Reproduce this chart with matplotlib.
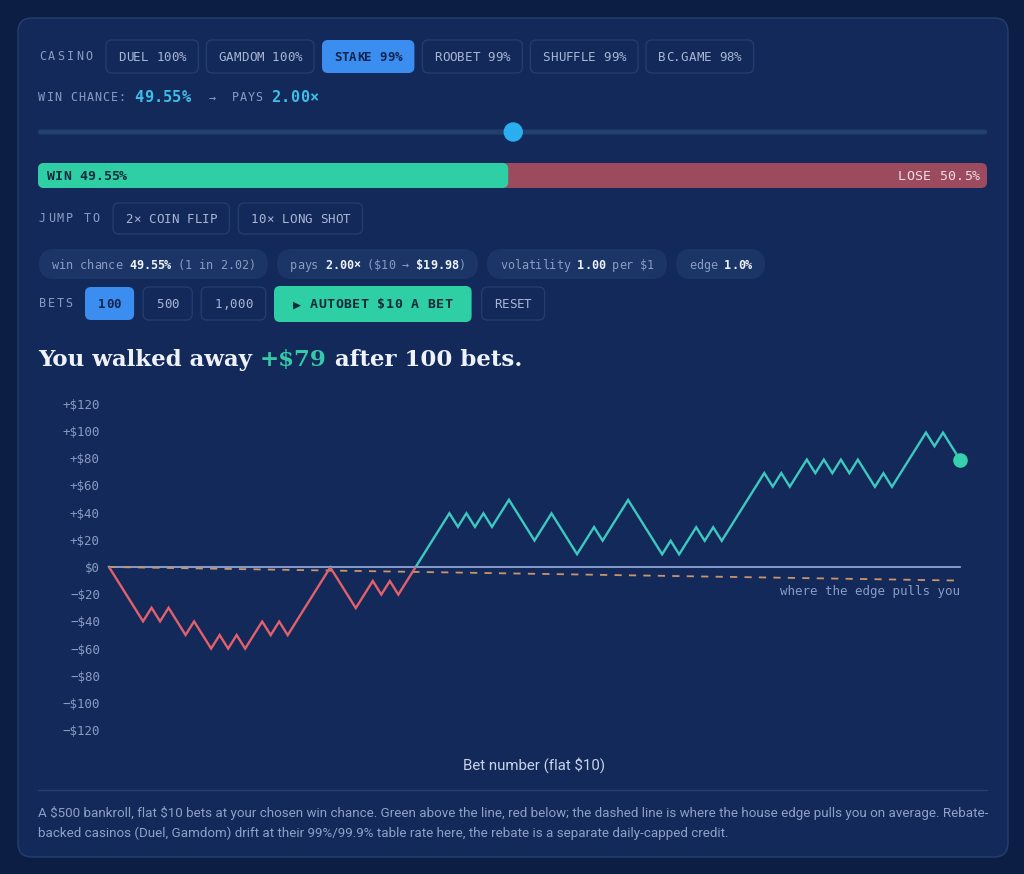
import numpy as np
import matplotlib
matplotlib.use("Agg")
import matplotlib.pyplot as plt
from matplotlib.patches import FancyBboxPatch, Rectangle
from matplotlib.ticker import FuncFormatter

# ---------------- data ----------------
casinos = ["DUEL 100%", "GAMDOM 100%", "STAKE 99%", "ROOBET 99%", "SHUFFLE 99%", "BC.GAME 98%"]
active_casino = "STAKE 99%"
win_chance = 49.55
lose_label = "50.5%"
payout = 2.00
bet_size = 10
win_return = 19.98
edge_pct = 1.0
volatility = 1.00
jump_options = ["2× COIN FLIP", "10× LONG SHOT"]
bet_counts = ["100", "500", "1,000"]
active_bets = "100"
# outcome of each of the 100 bets (W = win, L = loss)
outcomes = ("LLLLWLWLLWLLWLWLWWLWLWWWWWLLLWWLWLWW"
            "WWWWLWLWLWWLLL"
            "WWLLLWWLWWWLLLLWLWWLWL"
            "WWWWWLWLWWLWLWLWLLWLWWWWLWLL")
edge_x = [0, 100]
edge_y = [0, -10]
yticks = [120, 100, 80, 60, 40, 20, 0, -20, -40, -60, -80, -100, -120]

steps = np.array([win_return - bet_size if c == "W" else -bet_size for c in outcomes])
profit = np.concatenate([[0.0], np.cumsum(steps)])
bets = np.arange(len(profit))
final = profit[-1]

# ---------------- colours ----------------
BG = "#0d1e44"
CARD = "#12295a"
CARD_EDGE = "#253f70"
BTN_EDGE = "#233d6c"
CHIP = "#1a3566"
LABEL = "#8a9cc3"
BTN_TXT = "#a9b7d5"
BLUE = "#3b8ef0"
TEAL = "#2fcfa5"
LINE_TEAL = "#3cc9c0"
RED = "#e4606b"
LOSE = "#9c4a5e"
CYAN = "#3dbde8"
WHITE = "#eef2fa"

MONO = ["DejaVu Sans Mono", "DejaVu Sans"]
SANS = ["Roboto", "DejaVu Sans"]
PX = 100 / 72.0

W, H = 1024, 874
fig = plt.figure(figsize=(W / 100, H / 100), dpi=100, facecolor=BG)
ov = fig.add_axes([0, 0, 1, 1], zorder=0)
ov.set_xlim(0, W)
ov.set_ylim(H, 0)
ov.axis("off")
renderer = fig.canvas.get_renderer()


def rbox(x0, y0, w, h, r, fc, ec="none", lw=1.0, z=1):
    p = FancyBboxPatch((x0, y0), w, h, boxstyle=f"round,pad=0,rounding_size={r}",
                       fc=fc, ec=ec, lw=lw, zorder=z)
    ov.add_patch(p)
    return p


def spaced(x, yc, s, adv, size=8.5, color=LABEL, weight="normal", ha="left", z=5):
    n = len(s)
    if ha == "center":
        x0 = x - n * adv / 2
    elif ha == "right":
        x0 = x - n * adv
    else:
        x0 = x
    base = yc + 0.729 * size * PX / 2
    for i, ch in enumerate(s):
        if ch != " ":
            ov.text(x0 + (i + 0.5) * adv, base, ch, ha="center", va="baseline",
                    fontsize=size, color=color, fontweight=weight, family=MONO,
                    zorder=z, parse_math=False)
    return x0 + n * adv


def spaced_runs(x, yc, runs, adv, size=8.5):
    for s, color, weight in runs:
        x = spaced(x, yc, s, adv, size=size, color=color, weight=weight)
    return x


def fitted(x, base, s, target_w, family, size0, color, weight="normal", ha="left"):
    t = ov.text(x, base, s, ha=ha, va="baseline", fontsize=size0, color=color,
                family=family, fontweight=weight, zorder=5, parse_math=False)
    for _ in range(3):
        w = t.get_window_extent(renderer).width
        t.set_fontsize(t.get_fontsize() * target_w / w)
    return t


# ---------------- card ----------------
rbox(18, 18, 990, 839, 14, CARD, CARD_EDGE, 1.0, z=0.5)

# row 1 : casinos
spaced(38, 56, "CASINO", 9.2, size=8.5)
x = 106
for name in casinos:
    w = len(name) * 7.6 + 24
    active = name == active_casino
    rbox(x, 40, w, 33, 6, BLUE if active else CARD, "none" if active else BTN_EDGE, 1.0)
    spaced(x + w / 2, 56.5, name, 7.6, size=9, ha="center",
           color="#0f2550" if active else BTN_TXT, weight="bold" if active else "normal")
    x += w + 8

# row 2 : win chance
spaced(38, 97, "WIN CHANCE:", 8.0, size=8.5)
spaced(134, 96.5, f"{win_chance:.2f}%", 9.5, size=11, color=CYAN, weight="bold")
spaced(208, 97, "→", 8.0, size=8.5)
spaced(232, 97, "PAYS", 7.6, size=8.5)
spaced(271, 96.5, f"{payout:.2f}×", 9.5, size=11, color=CYAN, weight="bold")

# slider
bar_x0, bar_x1 = 38, 987
split = bar_x0 + (bar_x1 - bar_x0) * win_chance / 100
rbox(bar_x0, 129.5, bar_x1 - bar_x0, 5, 2.5, "#223f6e", z=1)
ov.add_patch(plt.Circle((split + 5, 132), 9, color="#29aef0", zorder=3))

# win / lose bar
rbox(bar_x0, 163, bar_x1 - bar_x0, 25, 6, LOSE, z=1)
rbox(bar_x0, 163, split - bar_x0, 25, 6, TEAL, z=2)
spaced(47, 175.5, f"WIN {win_chance:.2f}%", 8.0, size=9.5, color="#0e2a3c", weight="bold")
spaced(980, 175.5, f"LOSE {lose_label}", 8.2, size=9.5, color="#f2dde2", ha="right")

# jump to
spaced(38, 218, "JUMP TO", 8.9, size=8.5)
x = 113
for name in jump_options:
    w = len(name) * 7.7 + 24
    rbox(x, 203, w, 31, 6, CARD, BTN_EDGE, 1.0)
    spaced(x + w / 2, 218.5, name, 7.7, size=9, ha="center", color=BTN_TXT)
    x += w + 9

# chips
one_in = 100 / win_chance
chips = [
    [("win chance ", LABEL, "normal"), (f"{win_chance:.2f}%", WHITE, "bold"), (f" (1 in {one_in:.2f})", LABEL, "normal")],
    [("pays ", LABEL, "normal"), (f"{payout:.2f}×", WHITE, "bold"), (f" (${bet_size} → ", LABEL, "normal"),
     (f"${win_return:.2f}", WHITE, "bold"), (")", LABEL, "normal")],
    [("volatility ", LABEL, "normal"), (f"{volatility:.2f}", WHITE, "bold"), (" per $1", LABEL, "normal")],
    [("edge ", LABEL, "normal"), (f"{edge_pct:.1f}%", WHITE, "bold")],
]
x = 39
for runs in chips:
    n = sum(len(r[0]) for r in runs)
    w = n * 7.0 + 26
    rbox(x, 249, w, 30, 15, CHIP, z=1)
    spaced_runs(x + 13, 264.5, runs, 7.0, size=8.5)
    x += w + 9

# bets row
spaced(38, 303, "BETS", 8.8, size=8.5)
x = 85
for b in bet_counts:
    w = len(b) * 7.7 + 26
    active = b == active_bets
    rbox(x, 287, w, 33, 6, BLUE if active else CARD, "none" if active else BTN_EDGE, 1.0)
    spaced(x + w / 2, 303.5, b, 7.7, size=9, ha="center",
           color="#0f2550" if active else BTN_TXT, weight="bold" if active else "normal")
    x += w + 9
auto = f"▶ AUTOBET ${bet_size} A BET"
w = len(auto) * 8.4 + 38
rbox(274, 286, w, 36, 6, TEAL, z=1)
spaced(274 + w / 2, 303.5, auto, 8.4, size=9.5, ha="center", color="#0d2a3a", weight="bold")
x = 274 + w + 10
w = 5 * 7.4 + 26
rbox(x, 287, w, 33, 6, CARD, BTN_EDGE, 1.0)
spaced(x + w / 2, 303.5, "RESET", 7.4, size=9, ha="center", color=BTN_TXT)

# title (runs of serif text)
title_runs = [("You walked away ", WHITE), (f"+${final:.0f}", "#35c9a8"), (f" after {len(outcomes)} bets.", WHITE)]
tsize = 18
texts = []
for s, c in title_runs:
    texts.append(ov.text(0, 366, s, ha="left", va="baseline", fontsize=tsize, color=c,
                         family="DejaVu Serif", fontweight="bold", zorder=5, parse_math=False))
total = sum(t.get_window_extent(renderer).width for t in texts)
scale = 484 / total
x = 38
for t in texts:
    t.set_fontsize(tsize * scale)
    t.set_x(x)
    x += t.get_window_extent(renderer).width

# ---------------- chart ----------------
ax = fig.add_axes([109 / W, 1 - 730 / H, 851 / W, 326 / H], zorder=2)
ax.patch.set_alpha(0)
ax.set_xlim(0, len(outcomes))
ax.set_ylim(-120, 120)
for s in ax.spines.values():
    s.set_visible(False)
ax.set_xticks([])
ax.set_yticks(yticks)


def fmt(v, pos):
    v = int(round(v))
    if v > 0:
        return f"+${v}"
    if v < 0:
        return f"\u2212${-v}"
    return "$0"


ax.yaxis.set_major_formatter(FuncFormatter(fmt))
ax.tick_params(axis="y", length=0, pad=6.5, labelsize=9, labelcolor=LABEL)
for lab in ax.get_yticklabels():
    lab.set_family(MONO)

ax.plot([0, len(outcomes)], [0, 0], color="#8fa6d6", lw=1.3, zorder=2, clip_on=False)
ax.plot(edge_x, edge_y, color="#c9956b", lw=1.3, dashes=(4, 4), zorder=2, clip_on=False)

up = ax.plot(bets, profit, color=LINE_TEAL, lw=1.7, zorder=3, solid_joinstyle="miter")[0]
dn = ax.plot(bets, profit, color=RED, lw=1.7, zorder=3, solid_joinstyle="miter")[0]
r_up = Rectangle((-10, 0), 200, 500, transform=ax.transData)
r_dn = Rectangle((-10, -500), 200, 500, transform=ax.transData)
up.set_clip_path(r_up)
dn.set_clip_path(r_dn)
ax.plot([bets[-1]], [profit[-1]], "o", ms=9.5, color="#36d0ad", zorder=4, clip_on=False)

ax.text(len(outcomes), -18.4, "where the edge pulls you", ha="right", va="center",
        fontsize=9, color=LABEL, family=MONO, parse_math=False)

# x label
fitted(534, 770, "Bet number (flat $10)", 142, SANS, 10, "#c8d3ea", ha="center")

# separator + footer
ov.plot([38, 987], [790, 790], color="#26406e", lw=1.0, zorder=1)
line1 = ("A $500 bankroll, flat $10 bets at your chosen win chance. Green above the line, red below; "
         "the dashed line is where the house edge pulls you on average. Rebate-")
line2 = "backed casinos (Duel, Gamdom) drift at their 99%/99.9% table rate here, the rebate is a separate daily-capped credit."
t1 = fitted(38, 817, line1, 949, SANS, 9, "#8fa1c6")
ov.text(38, 837, line2, ha="left", va="baseline", fontsize=t1.get_fontsize(), color="#8fa1c6",
        family=SANS, zorder=5, parse_math=False)

fig.savefig("out.png", dpi=100, facecolor=BG)
